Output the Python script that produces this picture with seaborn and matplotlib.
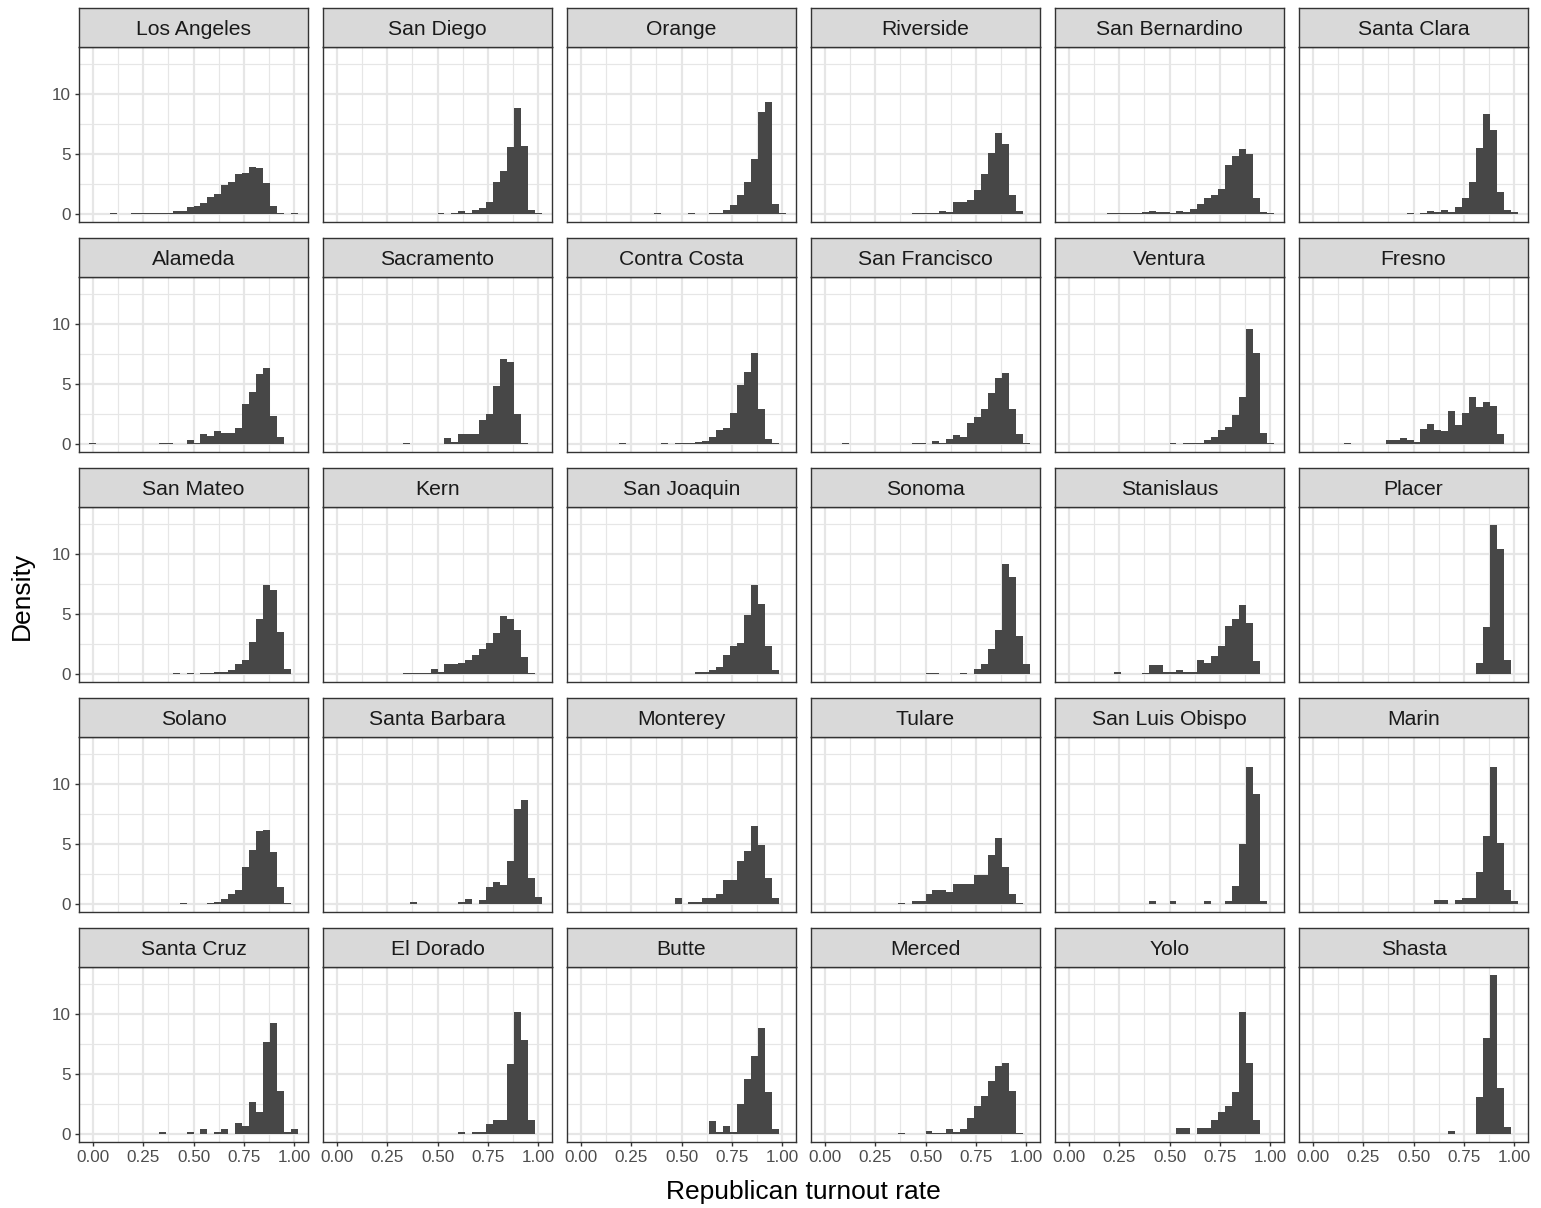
import numpy as np
import pandas as pd
import matplotlib
matplotlib.use("Agg")
import matplotlib.pyplot as plt
from matplotlib.ticker import FixedLocator
import seaborn as sns

# ---------------------------------------------------------------
# Histogram densities of the Republican turnout rate, 30 bins of
# width 1/29 centred on 0, 1/29, ..., 1 (one list per county).
# ---------------------------------------------------------------
counties = [
    "Los Angeles", "San Diego", "Orange", "Riverside", "San Bernardino", "Santa Clara",
    "Alameda", "Sacramento", "Contra Costa", "San Francisco", "Ventura", "Fresno",
    "San Mateo", "Kern", "San Joaquin", "Sonoma", "Stanislaus", "Placer",
    "Solano", "Santa Barbara", "Monterey", "Tulare", "San Luis Obispo", "Marin",
    "Santa Cruz", "El Dorado", "Butte", "Merced", "Yolo", "Shasta",
]

los_angeles = [0, 0, 0, 0.06, 0, 0, 0.06, 0.06, 0.06, 0.06, 0.06, 0.06, 0.25, 0.25, 0.55,
               0.7, 0.95, 1.4, 1.65, 2.4, 2.65, 3.3, 3.4, 3.9, 3.85, 2.6, 0.7, 0.06, 0, 0.06]
san_diego = [0, 0, 0, 0, 0, 0, 0, 0, 0, 0, 0, 0, 0, 0, 0,
             0.07, 0, 0.07, 0.22, 0.07, 0.35, 0.5, 1.0, 2.65, 3.6, 5.6, 8.8, 5.7, 0.35, 0.07]
orange = [0, 0, 0, 0, 0, 0, 0, 0, 0, 0, 0, 0.06, 0, 0, 0,
          0, 0.06, 0, 0, 0.07, 0.07, 0.3, 0.75, 1.55, 2.7, 4.6, 8.5, 9.3, 0.8, 0.06]
riverside = [0, 0, 0, 0, 0, 0, 0, 0, 0, 0, 0, 0, 0, 0.07, 0.07,
             0.07, 0.07, 0.27, 0.15, 1.04, 1.04, 1.15, 2.0, 3.3, 5.1, 6.77, 5.86, 1.6, 0.25, 0]
san_bernardino = [0, 0, 0, 0, 0, 0, 0.07, 0.07, 0.07, 0.08, 0.12, 0.15, 0.22, 0.18, 0.15,
                  0.12, 0.22, 0.15, 0.45, 0.85, 1.3, 1.55, 2.1, 4.1, 4.8, 5.4, 5.0, 1.3, 0.15, 0.06]
santa_clara = [0, 0, 0, 0, 0, 0, 0, 0, 0, 0, 0, 0, 0, 0, 0.07,
               0, 0.08, 0.25, 0.15, 0.3, 0.2, 0.6, 1.35, 2.7, 5.5, 8.3, 7.0, 1.8, 0.3, 0.2]
alameda = [0.08, 0, 0, 0, 0, 0, 0, 0, 0, 0, 0.08, 0.08, 0, 0, 0.3,
           0.07, 0.8, 0.65, 1.05, 0.9, 0.9, 1.3, 3.3, 4.3, 5.8, 6.3, 2.3, 0.55, 0, 0]
sacramento = [0, 0, 0, 0, 0, 0, 0, 0, 0, 0, 0.08, 0, 0, 0, 0,
              0, 0.5, 0.15, 0.8, 0.8, 0.85, 2.0, 2.5, 4.8, 7.1, 6.8, 2.5, 0.08, 0, 0]
contra_costa = [0, 0, 0, 0, 0, 0, 0.06, 0, 0, 0, 0, 0, 0.1, 0, 0.1,
                0.12, 0.08, 0.2, 0.25, 0.55, 1.2, 1.35, 2.55, 4.9, 6.0, 7.55, 2.9, 0.4, 0.08, 0]
san_francisco = [0, 0, 0, 0.08, 0, 0, 0, 0, 0, 0, 0, 0, 0, 0.06, 0.08,
                 0, 0.22, 0.11, 0.42, 0.78, 0.58, 1.78, 2.25, 2.94, 4.28, 5.5, 5.94, 2.94, 0.86, 0.11]
ventura = [0, 0, 0, 0, 0, 0, 0, 0, 0, 0, 0, 0, 0, 0, 0,
           0.07, 0, 0.07, 0.08, 0.1, 0.3, 0.6, 1.2, 1.4, 2.4, 3.9, 9.6, 7.6, 0.9, 0.1]
fresno = [0, 0, 0, 0, 0, 0.1, 0, 0, 0, 0, 0, 0.3, 0.3, 0.5, 0.35,
          0.15, 1.25, 1.65, 1.2, 1.1, 2.75, 1.55, 2.6, 3.9, 3.1, 3.5, 3.15, 0.8, 0, 0]
san_mateo = [0, 0, 0, 0, 0, 0, 0, 0, 0, 0, 0, 0, 0.06, 0, 0.06,
             0, 0.07, 0.1, 0.18, 0.2, 0.3, 0.8, 1.2, 2.7, 4.6, 7.4, 7.0, 3.5, 0.45, 0]
kern = [0, 0, 0, 0, 0, 0, 0, 0, 0, 0, 0.06, 0.07, 0.07, 0.07, 0.45,
        0.15, 0.8, 0.85, 0.95, 1.2, 1.6, 2.1, 2.55, 3.4, 4.85, 4.55, 3.7, 1.4, 0.07, 0]
san_joaquin = [0, 0, 0, 0, 0, 0, 0, 0, 0, 0, 0, 0, 0, 0, 0,
               0, 0, 0.15, 0.15, 0.35, 0.55, 1.55, 2.35, 2.55, 4.9, 7.45, 5.85, 2.35, 0.35, 0]
sonoma = [0, 0, 0, 0, 0, 0, 0, 0, 0, 0, 0, 0, 0, 0, 0,
          0.06, 0.06, 0, 0, 0, 0.1, 0, 0.4, 0.85, 2.1, 3.7, 9.2, 8.1, 3.2, 0.8]
stanislaus = [0, 0, 0, 0, 0, 0, 0, 0.15, 0, 0, 0, 0.12, 0.75, 0.75, 0.15,
              0.15, 0.35, 0.15, 0.15, 1.15, 0.95, 1.5, 2.3, 4.0, 4.6, 5.75, 4.25, 1.1, 0, 0]
placer = [0, 0, 0, 0, 0, 0, 0, 0, 0, 0, 0, 0, 0, 0, 0,
          0, 0, 0, 0, 0, 0, 0, 0, 0, 0.9, 3.9, 12.4, 10.4, 1.2, 0]
solano = [0, 0, 0, 0, 0, 0, 0, 0, 0, 0, 0, 0, 0, 0.1, 0,
          0, 0, 0.07, 0.2, 0.45, 0.8, 1.2, 3.1, 4.5, 6.05, 6.15, 4.3, 1.4, 0.07, 0]
santa_barbara = [0, 0, 0, 0, 0, 0, 0, 0, 0, 0, 0, 0.2, 0, 0, 0,
                 0, 0, 0, 0.2, 0.4, 0, 0.35, 1.4, 1.8, 1.6, 3.6, 7.9, 8.7, 2.2, 0.6]
monterey = [0, 0, 0, 0, 0, 0, 0, 0, 0, 0, 0, 0, 0, 0, 0.5,
            0, 0.15, 0.15, 0.5, 0.5, 0.85, 2.0, 2.0, 3.6, 4.4, 6.5, 4.95, 2.2, 0.5, 0]
tulare = [0, 0, 0, 0, 0, 0, 0, 0, 0, 0, 0, 0.12, 0, 0.25, 0.25,
          0.8, 1.2, 1.2, 1.0, 1.65, 1.65, 1.65, 2.4, 2.4, 4.1, 5.5, 3.1, 0.8, 0.1, 0]
san_luis_obispo = [0, 0, 0, 0, 0, 0, 0, 0, 0, 0, 0, 0, 0.25, 0, 0,
                   0.25, 0, 0, 0, 0, 0.25, 0, 0, 0.25, 1.5, 5.0, 11.4, 9.2, 0.25, 0]
marin = [0, 0, 0, 0, 0, 0, 0, 0, 0, 0, 0, 0, 0, 0, 0,
         0, 0, 0, 0.3, 0.3, 0, 0.3, 0.5, 0.5, 2.7, 5.7, 11.4, 5.1, 1.15, 0.25]
santa_cruz = [0, 0, 0, 0, 0, 0, 0, 0, 0, 0, 0.15, 0, 0, 0, 0.15,
              0, 0.4, 0, 0.15, 0.4, 0, 0.9, 0.65, 2.7, 1.8, 7.7, 9.25, 3.6, 0.15, 0.4]
el_dorado = [0, 0, 0, 0, 0, 0, 0, 0, 0, 0, 0, 0, 0, 0, 0,
             0, 0, 0, 0.15, 0, 0.15, 0.15, 0.8, 1.2, 1.2, 5.8, 10.2, 7.8, 1.2, 0]
butte = [0, 0, 0, 0, 0, 0, 0, 0, 0, 0, 0, 0, 0, 0, 0,
         0, 0, 0, 0, 1.1, 0.2, 0.65, 0.2, 2.5, 4.6, 6.5, 8.85, 3.5, 0.4, 0]
merced = [0, 0, 0, 0, 0, 0, 0, 0, 0, 0, 0, 0.08, 0, 0, 0,
          0.25, 0.08, 0.08, 0.4, 0.2, 0.4, 1.3, 2.3, 3.2, 4.4, 5.7, 5.95, 3.6, 0.1, 0]
yolo = [0, 0, 0, 0, 0, 0, 0, 0, 0, 0, 0, 0, 0, 0, 0,
        0, 0.5, 0.5, 0, 0.5, 0.5, 1.15, 1.8, 2.35, 3.5, 10.2, 5.9, 1.15, 0, 0]
shasta = [0, 0, 0, 0, 0, 0, 0, 0, 0, 0, 0, 0, 0, 0, 0,
          0, 0, 0, 0, 0, 0.28, 0, 0, 0, 3.1, 7.97, 13.25, 3.8, 0.6, 0]

densities = [
    los_angeles, san_diego, orange, riverside, san_bernardino, santa_clara,
    alameda, sacramento, contra_costa, san_francisco, ventura, fresno,
    san_mateo, kern, san_joaquin, sonoma, stanislaus, placer,
    solano, santa_barbara, monterey, tulare, san_luis_obispo, marin,
    santa_cruz, el_dorado, butte, merced, yolo, shasta,
]

x_ticks = [0.0, 0.25, 0.5, 0.75, 1.0]
x_tick_labels = ["0.00", "0.25", "0.50", "0.75", "1.00"]
y_ticks = [0, 5, 10]
y_tick_labels = ["0", "5", "10"]

# ---------------------------------------------------------------
# Bin geometry shared by every facet
# ---------------------------------------------------------------
n_bins = len(los_angeles)
bin_w = 1.0 / (n_bins - 1)
centers = np.arange(n_bins) * bin_w
edges = [float(e) for e in np.append(centers - bin_w / 2, centers[-1] + bin_w / 2)]

# ---------------------------------------------------------------
# Styling
# ---------------------------------------------------------------
sns.set_theme(style="white")
plt.rcParams["font.family"] = ["Liberation Sans", "DejaVu Sans"]

BAR = "#474747"
GRID = "#E6E6E6"
BORDER = "#333333"
STRIP = "#D9D9D9"
TICK_TXT = "#4D4D4D"

W, H = 1541, 1208
fig = plt.figure(figsize=(W / 100, H / 100), dpi=100)

col_left = [79, 323, 567, 811, 1055, 1299]
row_top = [8, 238, 468, 698, 928]
panel_w, strip_h, panel_h = 229, 39, 175
n_cols = len(col_left)
n_rows = len(row_top)

# shared limits with ggplot-like 5% expansion
x_lo, x_hi = edges[0], edges[-1]
x_pad = 0.05 * (x_hi - x_lo)
y_max = max(max(d) for d in densities)
y_pad = 0.05 * y_max

for i, (name, dens) in enumerate(zip(counties, densities)):
    r, c = divmod(i, n_cols)
    left = col_left[c]
    top = row_top[r]

    ax = fig.add_axes([left / W, 1 - (top + strip_h + panel_h) / H, panel_w / W, panel_h / H])
    frame = pd.DataFrame({"rate": centers, "density": dens})
    sns.histplot(data=frame, x="rate", weights="density", bins=edges, stat="count",
                 color=BAR, alpha=1.0, linewidth=0, ax=ax, zorder=3)

    ax.set_xlim(x_lo - x_pad, x_hi + x_pad)
    ax.set_ylim(-y_pad, y_max + y_pad)
    ax.set_facecolor("white")
    ax.set_xlabel("")
    ax.set_ylabel("")

    ax.xaxis.set_major_locator(FixedLocator(x_ticks))
    ax.xaxis.set_minor_locator(FixedLocator([0.125, 0.375, 0.625, 0.875]))
    ax.yaxis.set_major_locator(FixedLocator(y_ticks))
    ax.yaxis.set_minor_locator(FixedLocator([2.5, 7.5, 12.5]))
    ax.set_axisbelow(True)
    ax.grid(which="major", color=GRID, linewidth=1.6, zorder=0)
    ax.grid(which="minor", color=GRID, linewidth=0.85, zorder=0)

    for sp in ax.spines.values():
        sp.set_visible(True)
        sp.set_color(BORDER)
        sp.set_linewidth(1.0)
        sp.set_zorder(5)

    ax.tick_params(which="minor", length=0)
    bottom_row = r == n_rows - 1
    left_col = c == 0
    ax.tick_params(axis="x", which="major", length=3.2 if bottom_row else 0, width=1.0,
                   color=BORDER, labelsize=12.3, labelcolor=TICK_TXT, pad=2.5,
                   labelbottom=bottom_row, bottom=bottom_row)
    ax.tick_params(axis="y", which="major", length=3.2 if left_col else 0, width=1.0,
                   color=BORDER, labelsize=12.3, labelcolor=TICK_TXT, pad=2.5,
                   labelleft=left_col, left=left_col)
    if bottom_row:
        ax.set_xticklabels(x_tick_labels)
    if left_col:
        ax.set_yticklabels(y_tick_labels)

    # facet strip
    sax = fig.add_axes([left / W, 1 - (top + strip_h) / H, panel_w / W, strip_h / H])
    sax.set_facecolor(STRIP)
    sax.set_xticks([])
    sax.set_yticks([])
    for sp in sax.spines.values():
        sp.set_visible(True)
        sp.set_color(BORDER)
        sp.set_linewidth(1.0)
    sax.text(0.5, 0.5, name, ha="center", va="center_baseline", fontsize=15.2,
             color="#1A1A1A", transform=sax.transAxes)

fig.text((col_left[0] + col_left[-1] + panel_w) / 2 / W, 1 - 1192 / H,
         "Republican turnout rate", ha="center", va="center", fontsize=19, color="black")
fig.text(22 / W, 1 - 596 / H, "Density", ha="center", va="center", rotation=90,
         fontsize=19, color="black")

fig.savefig("out.png", dpi=100, facecolor="white")
